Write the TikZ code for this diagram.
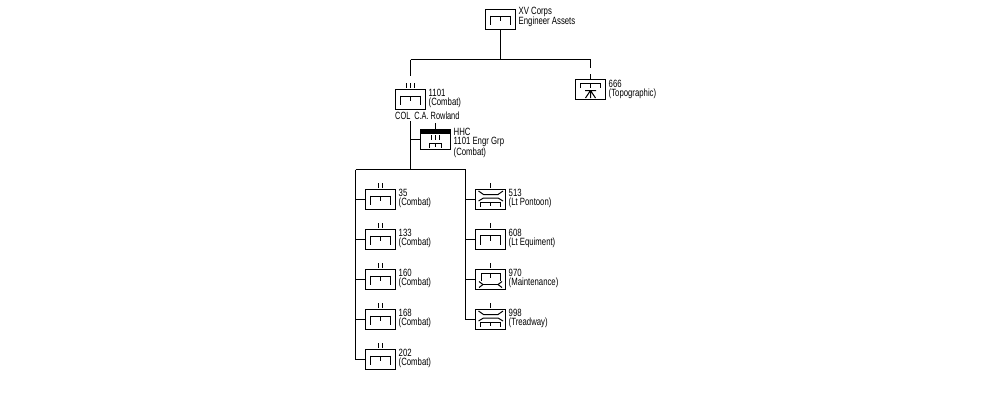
\documentclass[tikz,border=0pt]{standalone}
\usepackage{fontspec}
\setmainfont[FakeStretch=0.74]{Liberation Sans}
\tikzset{
  unitbox/.style={draw=black,line width=1pt,minimum width=30pt,minimum height=20pt,inner sep=0pt,fill=white},
  lbl/.style={anchor=north west,inner sep=0pt,align=left,font=\fontsize{10.5pt}{9.6pt}\selectfont},
  wire/.style={draw=black,line width=1pt,line cap=butt},
  engr/.pic={\draw[wire] (-10,-3.5) -- (10,-3.5) (-10,-4) -- (-10,5) (10,-4) -- (10,5) (0,-3.5) -- (0,1);}
}
\newcommand{\unitat}[4]{% name, cx, cy, pic
  \node[unitbox] (#1) at (#2,#3) {};
  \pic at (#1.center) {#4};
}
\begin{document}
\begin{tikzpicture}[x=1pt,y=-1pt]
\useasboundingbox (0,0) rectangle (1000,400);
% top
\unitat{corps}{500.5}{19.5}{engr}
\node[lbl] (corpst) at (518.5,6.5) {XV Corps\\Engineer Assets};
\coordinate (busT) at (corps.south |- 0,59.5);
\coordinate (busTl) at (410.5,59.5);
\coordinate (busTr) at (590.5,59.5);
\draw[wire] (corps.south) -- (busT);
\draw[wire] (busTl) -- (busTr);
\coordinate (a1) at (410.5,76);
\coordinate (b1) at (590.5,68);
\draw[wire] (busTl) -- (a1);
\draw[wire] (busTr) -- (b1);
% 666
\node[unitbox] (topo) at (590.5,89.5) {};
\draw[wire] (590.5,74) -- (590.5,78.5);
\draw[wire] (580.5,88) -- (580.5,83.5) -- (600.5,83.5) -- (600.5,88) (590.5,83.5) -- (590.5,88);
\draw[wire] (585,90.5) -- (596,90.5) (590.5,90.5) -- (590.5,98) (590.5,90.5) -- (585.5,98) (590.5,90.5) -- (595.5,98);
\node[lbl] (topot) at (608.5,79.5) {666\\(Topographic)};
% 1101
\unitat{grp}{410.5}{99.5}{engr}
\foreach \x in {406.5,410.5,414.5} \draw[wire] (\x,83) -- (\x,88);
\node[lbl] (grpt) at (428.5,88.5) {1101\\(Combat)};
\node[lbl] (grpc) at (395,111.5) {\scalebox{0.95}[1]{COL\hspace{2pt} C.A. Rowland}};
% HHC
\coordinate (v1) at (410.5,121);
\coordinate (v2) at (410.5,169.5);
\draw[wire] (v1) -- (v2);
\node[unitbox] (hhc) at (435.5,139.5) {};
\fill[black] (hhc.north west) rectangle ([yshift=-4.5pt]hhc.north east);
\draw[wire] (hhc.west) -- (hhc.west -| v1);
\draw[wire] (435.5,123) -- (435.5,128.5);
\foreach \x in {431.5,435.5,439.5} \draw[wire] (\x,135) -- (\x,140);
\draw[wire] (429.5,148) -- (429.5,143.5) -- (441.5,143.5) -- (441.5,148) (435.5,143.5) -- (435.5,147);
\node[lbl] (hhct) at (453.5,127.5) {HHC\\1101 Engr Grp\\(Combat)};
% bus
\coordinate (busL) at (355.5,169.5);
\coordinate (busR) at (465.5,169.5);
\draw[wire] (busL) -- (busR);
\draw[wire] (busL) -- (355.5,359.5) -- (365,359.5);
\draw[wire] (busR) -- (465.5,319.5) -- (475,319.5);
% left column
\foreach \n/\yc/\t in {a/199.5/35,b/239.5/133,c/279.5/160,d/319.5/168,e/359.5/202}{
  \unitat{u\n}{380.5}{\yc}{engr}
  \draw[wire] (u\n.west) -- (u\n.west -| busL);
  \draw[wire] ([xshift=-2pt,yshift=1pt]u\n.north) -- ++(0,-5.5);
  \draw[wire] ([xshift=2pt,yshift=1pt]u\n.north) -- ++(0,-5.5);
  \node[lbl] (t\n) at (398.5,\yc-11) {\t\\(Combat)};
}
% right column
\foreach \n/\yc/\t in {f/199.5/513,g/239.5/608,h/279.5/970,i/319.5/998}{
  \node[unitbox] (u\n) at (490.5,\yc) {};
  \draw[wire] (u\n.west) -- (u\n.west -| busR);
  \draw[wire] ([yshift=1pt]u\n.north) -- ++(0,-5.5);
}
\node[lbl] (tf) at (508.5,188.5) {513\\(Lt Pontoon)};
\node[lbl] (tg) at (508.5,228.5) {608\\(Lt Equiment)};
\node[lbl] (th) at (508.5,268.5) {970\\(Maintenance)};
\node[lbl] (ti) at (508.5,308.5) {998\\(Treadway)};
% inner symbols
\foreach \y in {199.5,319.5}{
  \draw[wire] (478.5,\y-8.5) -- (483.5,\y-5) -- (498,\y-5) -- (503,\y-8.5);
  \draw[wire] (478.5,\y+1.5) -- (483.5,\y-1.5) -- (498,\y-1.5) -- (503,\y+1.5);
  \draw[wire] (480.5,\y+7.5) -- (480.5,\y+2.5) -- (500.5,\y+2.5) -- (500.5,\y+7.5) (490.5,\y+2.5) -- (490.5,\y+6);
}
\draw[wire] (480.5,239.5+5) -- (480.5,239.5-4) -- (500.5,239.5-4) -- (500.5,239.5+5) (490.5,239.5-4) -- (490.5,239.5+1);
\draw[wire] (481.5,281) -- (481.5,273.5) -- (500.5,273.5) -- (500.5,281) (490.5,273.5) -- (490.5,278);
\draw[wire] (479,281.5) -- (483,284.5) -- (479,287.5);
\draw[wire] (483,284.5) -- (498,284.5);
\draw[wire] (502,281.5) -- (498,284.5) -- (502,287.5);
\end{tikzpicture}
\end{document}
